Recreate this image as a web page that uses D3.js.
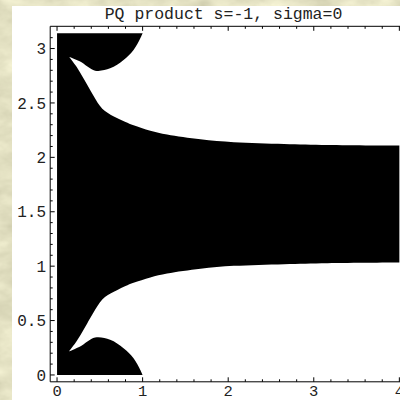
<!DOCTYPE html>
<html>
<head>
<meta charset="utf-8">
<script src="https://cdn.jsdelivr.net/npm/d3@7/dist/d3.min.js"></script>
<style>
  html, body { margin: 0; padding: 0; background: #e2dfc2; }
  svg { display: block; }
</style>
</head>
<body>
<script>
// ---- data ----
const title = "PQ product s=-1, sigma=0";
const PI = Math.PI;
// upper edge of the main black body (lower edge of the upper white region)
const upperX = [0.14, 0.23, 0.31, 0.39, 0.45, 0.50, 0.56, 0.63, 0.70, 0.80, 0.894, 1.09, 1.286, 1.676, 2.067, 2.653, 3.162, 4.0];
const upperY = [2.925, 2.83, 2.725, 2.615, 2.535, 2.475, 2.425, 2.39, 2.362, 2.325, 2.295, 2.245, 2.21, 2.166, 2.139, 2.123, 2.114, 2.108];
// lower edge of the top black cap
const capX = [0.14, 0.27, 0.445, 0.62, 0.777, 0.894, 0.973, 1.0];
const capY = [2.925, 2.88, 2.797, 2.818, 2.895, 2.987, 3.095, 3.1416];
const xTicks = [0, 1, 2, 3, 4];
const xTickLabels = ["0", "1", "2", "3", "4"];
const yTicks = [0, 0.5, 1, 1.5, 2, 2.5, 3];
const yTickLabels = ["0", "0.5", "1", "1.5", "2", "2.5", "3"];

const W = 400, H = 400;
const svg = d3.select("body").append("svg").attr("width", W).attr("height", H);

// background texture
const defs = svg.append("defs");
const f = defs.append("filter").attr("id", "tex").attr("x", 0).attr("y", 0).attr("width", 1).attr("height", 1)
  .attr("color-interpolation-filters", "sRGB");
f.append("feTurbulence").attr("type", "fractalNoise").attr("baseFrequency", "0.03 0.05")
  .attr("numOctaves", 4).attr("seed", 7).attr("result", "n");
f.append("feColorMatrix").attr("type", "matrix")
  .attr("values", "0.33 0.33 0.33 0 0  0.33 0.33 0.33 0 0  0.33 0.33 0.33 0 0  0 0 0 0 1");
const ct = f.append("feComponentTransfer");
ct.append("feFuncR").attr("type", "linear").attr("slope", 0.4).attr("intercept", 0.69);
ct.append("feFuncG").attr("type", "linear").attr("slope", 0.4).attr("intercept", 0.68);
ct.append("feFuncB").attr("type", "linear").attr("slope", 0.4).attr("intercept", 0.56);
svg.append("rect").attr("width", W).attr("height", H).attr("filter", "url(#tex)");

// white panel
svg.append("rect").attr("x", 12).attr("y", 6).attr("width", W - 12).attr("height", H - 6).attr("fill", "#fff");

// scales (2% padding like Mathematica)
const x = d3.scaleLinear().domain([-0.08, 4.08]).range([50.2, 406.2]);
const y = d3.scaleLinear().domain([-0.02 * PI, PI * 1.02]).range([381.8, 26.3]);

// black region
const line = d3.line().x(d => x(d[0])).y(d => y(d[1])).curve(d3.curveCatmullRom.alpha(0.5));
const upper = upperX.map((v, i) => [v, upperY[i]]);
const cap = capX.map((v, i) => [v, capY[i]]);
const capRev = cap.slice().reverse();
const lowerRev = upper.map(d => [d[0], PI - d[1]]).reverse();
const lowerCap = cap.map(d => [d[0], PI - d[1]]);
const cont = s => s.replace(/^M/, "L");
const last = upper[upper.length - 1];
const dPath =
  `M${x(0)},${y(0)}L${x(0)},${y(PI)}L${x(1)},${y(PI)}` +
  cont(line(capRev)) + cont(line(upper)) +
  `L${x(last[0])},${y(PI - last[1])}` +
  cont(line(lowerRev)) + cont(line(lowerCap)) + "Z";
svg.append("path").attr("d", dPath).attr("fill", "#000");

// frame
const fr = svg.append("g").attr("stroke", "#000").attr("stroke-width", 1).attr("fill", "none");
fr.append("line").attr("x1", x.range()[0]).attr("x2", x.range()[0]).attr("y1", y.range()[1]).attr("y2", y.range()[0]);
fr.append("line").attr("x1", x.range()[0]).attr("x2", x.range()[1]).attr("y1", y.range()[0]).attr("y2", y.range()[0]);
fr.append("line").attr("x1", x.range()[0]).attr("x2", x.range()[1]).attr("y1", y.range()[1]).attr("y2", y.range()[1]);

// ticks (inward)
const yMinor = d3.range(0, 32).map(i => i / 10);
yMinor.forEach(v => {
  const major = Math.abs(v * 2 - Math.round(v * 2)) < 1e-6;
  fr.append("line").attr("x1", x.range()[0]).attr("x2", x.range()[0] + (major ? 4.5 : 2.5))
    .attr("y1", y(v)).attr("y2", y(v));
});
const xMinor = d3.range(0, 21).map(i => i / 5);
xMinor.forEach(v => {
  const major = Math.abs(v - Math.round(v)) < 1e-6;
  const len = major ? 4.5 : 2.5;
  fr.append("line").attr("x1", x(v)).attr("x2", x(v)).attr("y1", y.range()[0]).attr("y2", y.range()[0] - len);
  fr.append("line").attr("x1", x(v)).attr("x2", x(v)).attr("y1", y.range()[1]).attr("y2", y.range()[1] + len);
});

// tick labels
const font = "'Liberation Mono', 'DejaVu Sans Mono', monospace";
svg.append("g").selectAll("text").data(yTicks).join("text")
  .attr("x", 46).attr("y", d => y(d)).attr("dy", "0.35em")
  .attr("text-anchor", "end").attr("font-family", font).attr("font-size", 16).attr("fill", "#222")
  .text((d, i) => yTickLabels[i]);
svg.append("g").selectAll("text").data(xTicks).join("text")
  .attr("x", d => x(d)).attr("y", 396)
  .attr("text-anchor", "middle").attr("font-family", font).attr("font-size", 15.5).attr("fill", "#222")
  .text((d, i) => xTickLabels[i]);

// title
svg.append("text").attr("x", 223.5).attr("y", 19).attr("text-anchor", "middle")
  .attr("font-family", font).attr("font-size", 16.5).attr("fill", "#222").text(title);
</script>
</body>
</html>
